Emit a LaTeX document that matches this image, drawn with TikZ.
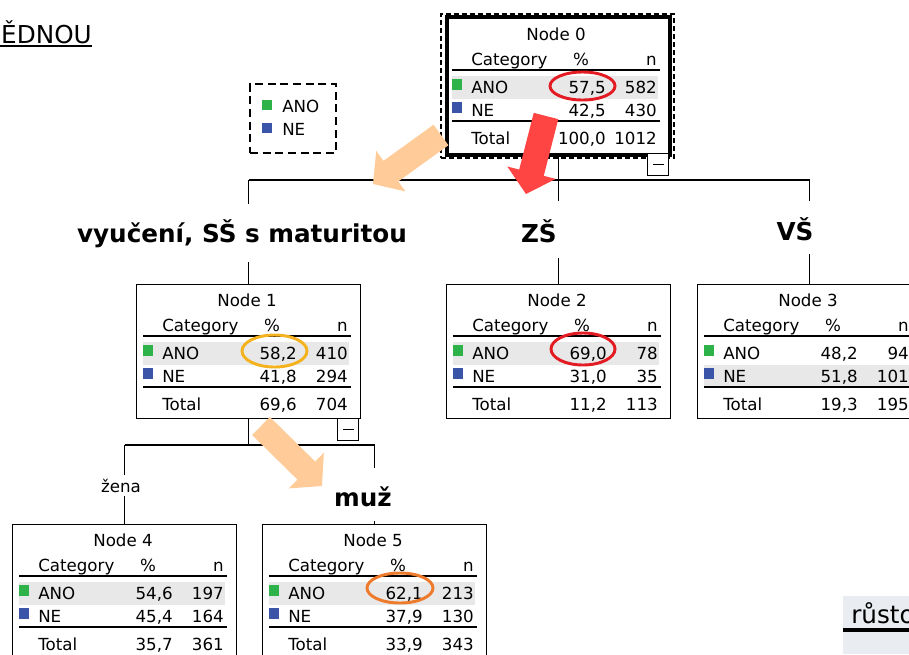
\documentclass[tikz,border=0pt]{standalone}
\usepackage{fontspec}
\setmainfont{DejaVu Sans}
\usetikzlibrary{calc,shapes.geometric}
\definecolor{anogreen}{HTML}{2DB34A}
\definecolor{neblue}{HTML}{3A55A8}
\definecolor{rowgray}{HTML}{E8E8E8}
\definecolor{peach}{HTML}{FFCB98}
\definecolor{redarrow}{HTML}{FF4444}
\definecolor{ringred}{HTML}{E31B23}
\definecolor{ringgold}{HTML}{F4B21E}
\definecolor{ringorange}{HTML}{EE7A2B}
\definecolor{cellgray}{HTML}{E9ECF1}
\tikzset{
  tabtxt/.style={inner sep=0pt, font=\fontsize{12.5}{14}\selectfont},
  lbl/.style={inner sep=0pt, font=\bfseries\fontsize{18.5}{22}\selectfont},
  tbox/.style={draw, fill=white, line width=1.1pt, anchor=north west, inner sep=0pt,
               minimum width=168pt, minimum height=100.5pt},
  collapse/.style={draw, fill=white, line width=1.1pt, anchor=north west, inner sep=0pt,
               minimum width=15.75pt, minimum height=16.5pt},
  edge/.style={line width=1.1pt},
  rule/.style={line width=1.5pt},
  ring/.style={ellipse, draw, line width=2.2pt, inner sep=0pt},
}
% #1 prefix, #2 x, #3 y, #4 title, #5 highlight offset, #6 anoP, #7 anoN, #8 neP, #9 neN
\newcommand\TreeContent[9]{%
  \begin{scope}[shift={(#2,#3)}]
    \fill[rowgray] (7,#5) rectangle (213,#5+23);
    \node[tabtxt, anchor=base] (#1-title) at (111,22) {#4};
    \node[tabtxt, anchor=base west] (#1-cat) at (26,47) {Category};
    \node[tabtxt, anchor=base] (#1-pct) at (136,47) {\%};
    \node[tabtxt, anchor=base east] (#1-n) at (212,47) {n};
    \draw[rule] (7,52) -- (215,52);
    \fill[anogreen] (7,61) rectangle (17,72);
    \node[tabtxt, anchor=base west] (#1-ano) at (26,75) {ANO};
    \node[tabtxt, anchor=base east] (#1-anop) at (161,75) {#6};
    \node[tabtxt, anchor=base east] (#1-anon) at (212,75) {#7};
    \fill[neblue] (7,84) rectangle (17,95);
    \node[tabtxt, anchor=base west] (#1-ne) at (26,98) {NE};
    \node[tabtxt, anchor=base east] (#1-nep) at (161,98) {#8};
    \node[tabtxt, anchor=base east] (#1-nen) at (212,98) {#9};
  \end{scope}}
% #1 prefix, #2 x, #3 y, #4 totP, #5 totN
\newcommand\TreeTotal[5]{%
  \begin{scope}[shift={(#2,#3)}]
    \draw[rule] (7,103) -- (215,103);
    \node[tabtxt, anchor=base west] (#1-tot) at (26,126) {Total};
    \node[tabtxt, anchor=base east] (#1-totp) at (161,126) {#4};
    \node[tabtxt, anchor=base east] (#1-totn) at (212,126) {#5};
  \end{scope}}
% #1 name, #2 tail, #3 tip, #4 colour
\newcommand\FatArrow[4]{%
  \coordinate (#1-t) at #2;
  \coordinate (#1-h) at #3;
  \coordinate (#1-c) at ($(#1-h)!16.5pt!(#1-t)$);
  \fill[#4] ($(#1-t)!9.5pt!90:(#1-h)$) -- ($(#1-c)!9.5pt!90:(#1-h)$)
    -- ($(#1-c)!18.75pt!90:(#1-h)$) -- (#1-h) -- ($(#1-c)!18.75pt!-90:(#1-h)$)
    -- ($(#1-c)!9.5pt!-90:(#1-h)$) -- ($(#1-t)!9.5pt!-90:(#1-h)$) -- cycle;}

\begin{document}
\begin{tikzpicture}[x=0.75pt,y=-0.75pt]
\useasboundingbox (0,0) rectangle (909,654);
\clip (0,0) rectangle (909,654);

% top-left heading fragment
\node[inner sep=0pt, anchor=base east, font=\fontsize{18.5}{22}\selectfont] (hdr) at (92,43) {ĚDNOU};
\draw[line width=1.2pt] (0,46) -- (hdr.base east |- 0,46);

% bottom-right cell fragment
\fill[cellgray] (843,596) rectangle (909,654);
\node[inner sep=0pt, anchor=base west, font=\fontsize{18.5}{22}\selectfont] (cell) at (851,623) {růsto};
\draw[line width=2.4pt] (843,630) -- (909,630);

% legend
\node[draw, dash pattern=on 6pt off 3.5pt, line width=1.5pt, anchor=north west, inner sep=0pt,
      minimum width=64.5pt, minimum height=51.75pt] (legend) at (249,83) {};
\fill[anogreen] (262,100) rectangle (272,110);
\node[tabtxt, anchor=base west] (legano) at (282,112) {ANO};
\fill[neblue] (262,123) rectangle (272,133);
\node[tabtxt, anchor=base west] (legne) at (282,135) {NE};

% node boxes
\node[draw, fill=white, line width=3pt, anchor=north west, inner sep=0pt,
      minimum width=167.25pt, minimum height=103.5pt] (n0) at (445,15) {};
\node[draw, dash pattern=on 3.5pt off 2.5pt, line width=1.3pt, anchor=north west, inner sep=0pt,
      minimum width=174.75pt, minimum height=108pt] (n0sel) at (440,13) {};
\node[tbox] (n1) at (136,284) {};
\node[tbox] (n2) at (446,284) {};
\node[tbox] (n3) at (697,284) {};
\node[tbox, minimum height=120pt] (n4) at (12,524) {};
\node[tbox, minimum height=120pt] (n5) at (262,524) {};

% tree connectors
\coordinate (j0) at (n0.south |- 0,180);
\coordinate (b1) at (n1.north |- 0,180);
\coordinate (b3) at (n3.north |- 0,180);
\coordinate (g1a) at (n1.north |- 0,204);
\coordinate (g1b) at (n1.north |- 0,262);
\coordinate (g2a) at (n2.north |- 0,201);
\coordinate (g2b) at (n2.north |- 0,258);
\coordinate (g3a) at (n3.north |- 0,201);
\coordinate (g3b) at (n3.north |- 0,254);
\draw[edge] (n0.south) -- (j0);
\draw[edge] (b1) -- (b3);
\draw[edge] (b1) -- (g1a);
\draw[edge] (g1b) -- (n1.north);
\draw[edge] (j0 -| n2.north) -- (g2a);
\draw[edge] (g2b) -- (n2.north);
\draw[edge] (b3) -- (g3a);
\draw[edge] (g3b) -- (n3.north);

\coordinate (j1) at (n1.south |- 0,445);
\coordinate (b4) at (n4.north |- 0,445);
\coordinate (b5) at (n5.north |- 0,445);
\coordinate (g4a) at (n4.north |- 0,475);
\coordinate (g4b) at (n4.north |- 0,496);
\coordinate (g5a) at (n5.north |- 0,468);
\coordinate (g5b) at (n5.north |- 0,521);
\draw[edge] (n1.south) -- (j1);
\draw[edge] (b4) -- (b5);
\draw[edge] (b4) -- (g4a);
\draw[edge] (g4b) -- (n4.north);
\draw[edge] (b5) -- (g5a);
\draw[edge] (g5b) -- (n5.north);

% collapse buttons
\node[collapse] (c0) at (647,153) {\rule{8pt}{1pt}};
\node[collapse] (c1) at (337,418) {\rule{8pt}{1pt}};

% branch labels
\node[lbl, anchor=base] (lab1) at (242,242) {vyučení, SŠ s maturitou};
\node[lbl, anchor=base east] (lab2) at (557,242) {ZŠ};
\node[lbl, anchor=base] (lab3) at (795,240) {VŠ};
\node[tabtxt, anchor=base] (lab4) at (121,492) {žena};
\node[lbl, anchor=base] (lab5) at (363,506) {muž};

% node contents
\TreeContent{t0}{445}{18}{Node 0}{58}{57,5}{582}{42,5}{430}
\TreeTotal{t0}{445}{18}{100,0}{1012}
\TreeContent{t1}{136}{284}{Node 1}{58}{58,2}{410}{41,8}{294}
\TreeTotal{t1}{136}{284}{69,6}{704}
\TreeContent{t2}{446}{284}{Node 2}{58}{69,0}{78}{31,0}{35}
\TreeTotal{t2}{446}{284}{11,2}{113}
\TreeContent{t3}{697}{284}{Node 3}{81}{48,2}{94}{51,8}{101}
\TreeTotal{t3}{697}{284}{19,3}{195}
\TreeContent{t4}{12}{524}{Node 4}{58}{54,6}{197}{45,4}{164}
\TreeTotal{t4}{12}{524}{35,7}{361}
\TreeContent{t5}{262}{524}{Node 5}{58}{62,1}{213}{37,9}{130}
\TreeTotal{t5}{262}{524}{33,9}{343}

% highlight rings
\node[ring, draw=ringred, minimum width=48.75pt, minimum height=21pt] (e0) at (582.5,86) {};
\node[ring, draw=ringgold, minimum width=48.75pt, minimum height=24pt] (e1) at (274.5,351) {};
\node[ring, draw=ringred, minimum width=48pt, minimum height=24pt] (e2) at (583,349) {};
\node[ring, draw=ringorange, minimum width=49.5pt, minimum height=22.5pt] (e5) at (400,588) {};

% fat arrows
\FatArrow{a1}{(441,135)}{(373,184)}{peach}
\FatArrow{a2}{(546,116)}{(526,194)}{redarrow}
\FatArrow{a3}{(261,426)}{(322,486)}{peach}
\end{tikzpicture}
\end{document}
